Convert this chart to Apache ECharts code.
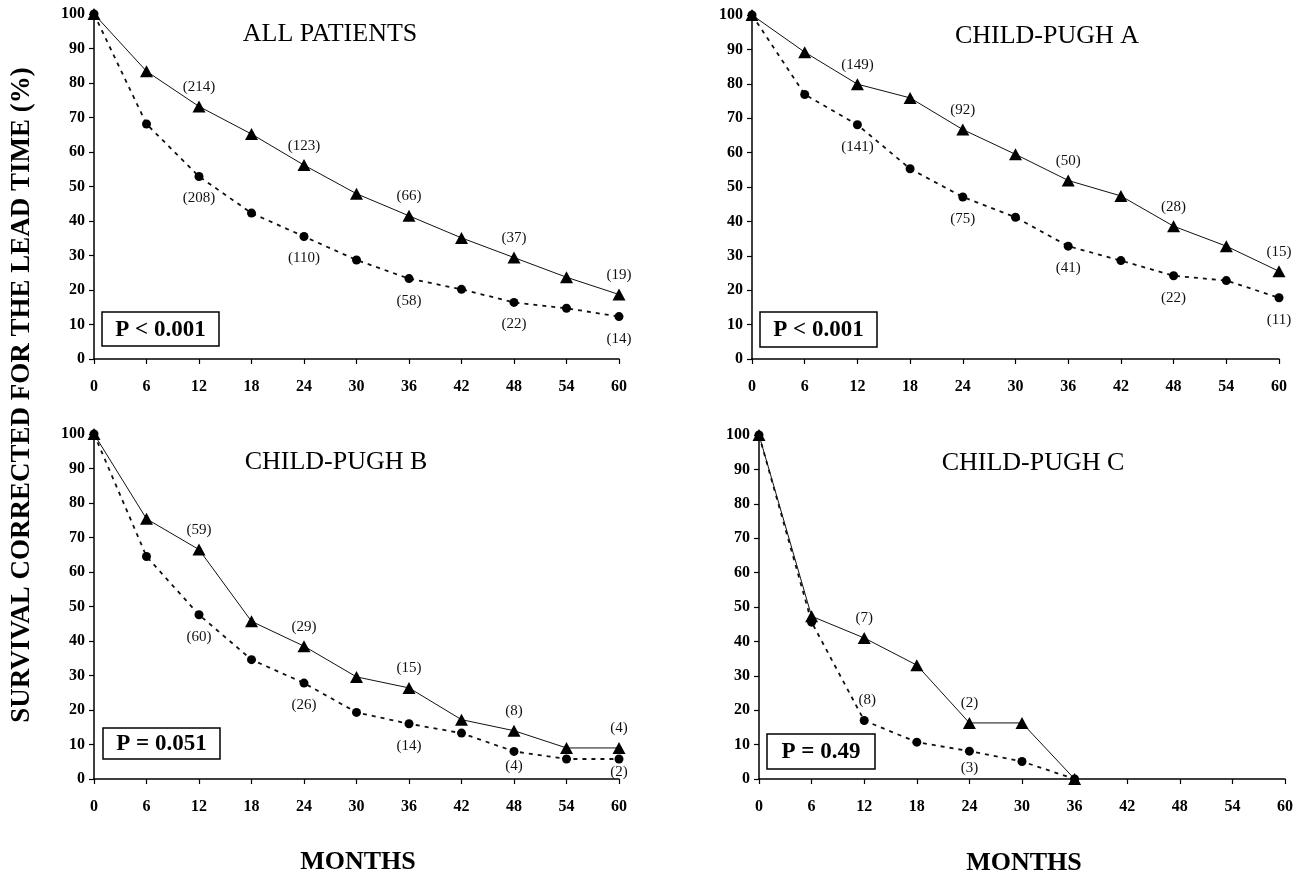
<!DOCTYPE html>
<html>
<head>
<meta charset="utf-8">
<script src="https://cdn.jsdelivr.net/npm/echarts@6/dist/echarts.min.js"></script>
<style>
html,body{margin:0;padding:0;background:#fff;}
#chart{width:1305px;height:879px;}
</style>
</head>
<body>
<div id="chart"></div>
<script>
// ---- data ----
const months = [0, 6, 12, 18, 24, 30, 36, 42, 48, 54, 60];
const monthsC = [0, 6, 12, 18, 24, 30, 36];
const yTicks = [0, 10, 20, 30, 40, 50, 60, 70, 80, 90, 100];
const xTicks = [0, 6, 12, 18, 24, 30, 36, 42, 48, 54, 60];

// ALL PATIENTS
const allTri = [100, 83.4, 73.2, 65.2, 56.2, 47.9, 41.5, 35.1, 29.4, 23.7, 18.7];
const allCir = [100, 68.1, 52.9, 42.3, 35.5, 28.7, 23.3, 20.2, 16.4, 14.7, 12.3];
const allTriN = [null, null, 214, null, 123, null, 66, null, 37, null, 19];
const allCirN = [null, null, 208, null, 110, null, 58, null, 22, null, 14];

// CHILD-PUGH A
const aTri = [100, 89.2, 79.9, 75.9, 66.7, 59.5, 51.9, 47.4, 38.6, 32.8, 25.5];
const aCir = [100, 76.9, 68.1, 55.3, 47.1, 41.2, 32.8, 28.6, 24.2, 22.8, 17.8];
const aTriN = [null, null, 149, null, 92, null, 50, null, 28, null, 15];
const aCirN = [null, null, 141, null, 75, null, 41, null, 22, null, 11];

// CHILD-PUGH B
const bTri = [100, 75.4, 66.5, 45.7, 38.5, 29.6, 26.4, 17.2, 14.0, 9.0, 9.0];
const bCir = [100, 64.5, 47.6, 34.6, 27.8, 19.3, 16.0, 13.3, 8.0, 5.8, 5.8];
const bTriN = [null, null, 59, null, 29, null, 15, null, 8, null, 4];
const bCirN = [null, null, 60, null, 26, null, 14, null, 4, null, 2];

// CHILD-PUGH C
const cTri = [100, 47.3, 41.0, 33.1, 16.3, 16.3, 0];
const cCir = [100, 45.6, 17.0, 10.7, 8.1, 5.1, 0];
const cTriN = [null, null, 7, null, 2, null, null];
const cCirN = [null, null, 8, null, 3, null, null];

const titles = ['ALL PATIENTS', 'CHILD-PUGH A', 'CHILD-PUGH B', 'CHILD-PUGH C'];
const pTexts = ['P < 0.001', 'P < 0.001', 'P = 0.051', 'P = 0.49'];
const yTitle = 'SURVIVAL CORRECTED FOR THE LEAD TIME (%)';
const xTitle = 'MONTHS';

// ---- layout ----
const SERIF = '"Liberation Serif", "Times New Roman", Times, serif';
const grids = [
  {left: 94, top: 14, width: 525, height: 345},
  {left: 752, top: 15, width: 527, height: 344},
  {left: 94, top: 434, width: 525, height: 345},
  {left: 759, top: 435, width: 526, height: 344}
];
const titlePos = [[330, 34], [1047, 36], [336, 462], [1033, 463]];
const boxes = [
  {x: 102, y: 312, w: 117, h: 34},
  {x: 760, y: 312, w: 117, h: 35},
  {x: 103, y: 728, w: 117, h: 31},
  {x: 767, y: 734, w: 108, h: 35}
];

// per-panel label placement tweaks (layout only)
const panels = [
  {xs: months, tri: allTri, cir: allCir, triN: allTriN, cirN: allCirN, cirAbove: [], cirClose: {}},
  {xs: months, tri: aTri, cir: aCir, triN: aTriN, cirN: aCirN, cirAbove: [], cirClose: {}},
  {xs: months, tri: bTri, cir: bCir, triN: bTriN, cirN: bCirN, cirAbove: [], cirClose: {8: 3, 10: 1}},
  {xs: monthsC, tri: cTri, cir: cCir, triN: cTriN, cirN: cCirN, cirAbove: [2], cirClose: {4: 5}}
];

const xAxes = [], yAxes = [], series = [], graphics = [];

panels.forEach((p, i) => {
  xAxes.push({
    type: 'value', gridIndex: i, min: xTicks[0], max: xTicks[xTicks.length - 1], interval: 6,
    axisLine: {show: true, onZero: false, lineStyle: {color: '#000', width: 1.5}},
    axisTick: {show: true, length: 5, lineStyle: {color: '#000', width: 1.2}},
    axisLabel: {show: true, margin: 20, color: '#000', fontFamily: SERIF, fontWeight: 'bold', fontSize: 16},
    splitLine: {show: false}
  });
  yAxes.push({
    type: 'value', gridIndex: i, min: yTicks[0], max: yTicks[yTicks.length - 1], interval: 10,
    axisLine: {show: true, onZero: false, lineStyle: {color: '#000', width: 1.5}},
    axisTick: {show: true, length: 5, lineStyle: {color: '#000', width: 1.2}},
    axisLabel: {show: true, margin: 9, color: '#000', fontFamily: SERIF, fontWeight: 'bold', fontSize: 16},
    splitLine: {show: false}
  });

  const triData = p.xs.map((x, k) => ({
    value: [x, p.tri[k]],
    label: {show: p.triN[k] != null, formatter: '(' + p.triN[k] + ')'}
  }));
  const cirData = p.xs.map((x, k) => {
    const above = p.cirAbove.indexOf(k) >= 0;
    const lab = {show: p.cirN[k] != null, formatter: '(' + p.cirN[k] + ')'};
    if (above) { lab.position = 'top'; lab.distance = 8; lab.offset = [3, 0]; }
    else if (p.cirClose[k] != null) { lab.distance = p.cirClose[k]; }
    return {value: [x, p.cir[k]], label: lab};
  });

  series.push({
    type: 'line', xAxisIndex: i, yAxisIndex: i, data: triData,
    symbol: 'triangle', symbolSize: [13, 12], showSymbol: true,
    itemStyle: {color: '#000'},
    lineStyle: {color: '#111', width: 1, type: 'solid'},
    label: {show: false, position: 'top', distance: 6, color: '#111', fontFamily: SERIF, fontSize: 15},
    silent: true, animation: false, z: 2
  });
  series.push({
    type: 'line', xAxisIndex: i, yAxisIndex: i, data: cirData,
    symbol: 'circle', symbolSize: 9, showSymbol: true,
    itemStyle: {color: '#000'},
    lineStyle: {color: '#111', width: 1.8, type: [4, 5]},
    label: {show: false, position: 'bottom', distance: 10, color: '#111', fontFamily: SERIF, fontSize: 15},
    silent: true, animation: false, z: 3
  });

  graphics.push({
    type: 'text', x: titlePos[i][0], y: titlePos[i][1],
    style: {text: titles[i], fill: '#000', fontFamily: SERIF, fontSize: 26,
      textAlign: 'center', textVerticalAlign: 'middle', align: 'center', verticalAlign: 'middle'}
  });
  const b = boxes[i];
  graphics.push({
    type: 'rect', shape: {x: b.x, y: b.y, width: b.w, height: b.h},
    style: {fill: '#fff', stroke: '#000', lineWidth: 1.5}, z: 10
  });
  graphics.push({
    type: 'text', x: b.x + b.w / 2, y: b.y + b.h / 2 + 1, z: 11,
    style: {text: pTexts[i], fill: '#000', fontFamily: SERIF, fontSize: 23, fontWeight: 'bold',
      textAlign: 'center', textVerticalAlign: 'middle', align: 'center', verticalAlign: 'middle'}
  });
});

graphics.push({
  type: 'text', x: 22, y: 395, rotation: Math.PI / 2,
  style: {text: yTitle, fill: '#000', fontFamily: SERIF, fontSize: 27, fontWeight: 'bold',
    textAlign: 'center', textVerticalAlign: 'middle', align: 'center', verticalAlign: 'middle'}
});
graphics.push({
  type: 'text', x: 358, y: 862,
  style: {text: xTitle, fill: '#000', fontFamily: SERIF, fontSize: 26, fontWeight: 'bold',
    textAlign: 'center', textVerticalAlign: 'middle', align: 'center', verticalAlign: 'middle'}
});
graphics.push({
  type: 'text', x: 1024, y: 863,
  style: {text: xTitle, fill: '#000', fontFamily: SERIF, fontSize: 26, fontWeight: 'bold',
    textAlign: 'center', textVerticalAlign: 'middle', align: 'center', verticalAlign: 'middle'}
});

const chart = echarts.init(document.getElementById('chart'), null, {renderer: 'canvas'});
chart.setOption({
  backgroundColor: '#fff',
  animation: false,
  grid: grids,
  xAxis: xAxes,
  yAxis: yAxes,
  series: series,
  graphic: graphics
});
</script>
</body>
</html>
